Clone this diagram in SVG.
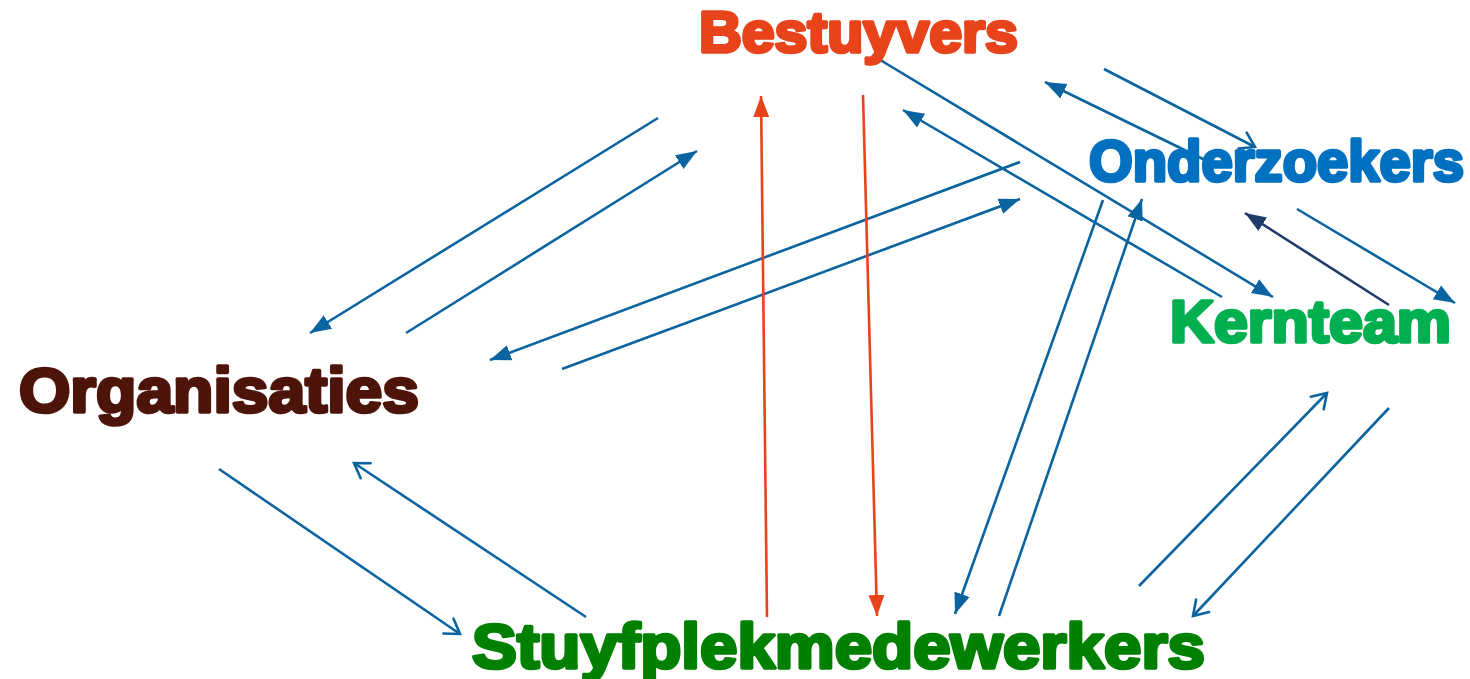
<svg xmlns="http://www.w3.org/2000/svg" width="1470" height="679" viewBox="0 0 1470 679">
<style>
.lbl{font-family:"Liberation Sans",Arial,sans-serif;font-weight:bold;stroke-width:3.6;stroke-linejoin:round}
.c{fill:none;stroke:#0B64A0;stroke-width:2.6}
.r{fill:none;stroke:#E8431A;stroke-width:2.6}
.n{fill:none;stroke:#1F3B68;stroke-width:2.6}
</style>
<defs>
<marker id="fb" markerUnits="userSpaceOnUse" markerWidth="24" markerHeight="24" viewBox="0 0 24 24" refX="21" refY="12" orient="auto"><path d="M0,4 L21,12 L0,20 Z" fill="#0B64A0"/></marker>
<marker id="fr" markerUnits="userSpaceOnUse" markerWidth="24" markerHeight="24" viewBox="0 0 24 24" refX="21" refY="12" orient="auto"><path d="M0,4 L21,12 L0,20 Z" fill="#E8431A"/></marker>
<marker id="fn" markerUnits="userSpaceOnUse" markerWidth="24" markerHeight="24" viewBox="0 0 24 24" refX="21" refY="12" orient="auto"><path d="M0,4 L21,12 L0,20 Z" fill="#1F3B68"/></marker>
<marker id="ob" markerUnits="userSpaceOnUse" markerWidth="24" markerHeight="24" viewBox="0 0 24 24" refX="20" refY="12" orient="auto"><path d="M6,3 L20,12 L6,21" fill="none" stroke="#0B64A0" stroke-width="2.6" stroke-linecap="round"/></marker>
</defs>
<g id="connectors">
<line class="c" x1="658" y1="118" x2="310" y2="333" marker-end="url(#fb)"/>
<line class="c" x1="406" y1="333" x2="697" y2="151" marker-end="url(#fb)"/>
<line class="c" x1="1020" y1="162" x2="490" y2="360" marker-end="url(#fb)"/>
<line class="c" x1="562" y1="369" x2="1020" y2="199" marker-end="url(#fb)"/>
<line class="c" x1="219" y1="469" x2="460" y2="634" marker-end="url(#ob)"/>
<line class="c" x1="586" y1="617" x2="354" y2="463" marker-end="url(#ob)"/>
<line class="r" x1="767" y1="617" x2="761" y2="96" marker-end="url(#fr)"/>
<line class="r" x1="863" y1="95" x2="877" y2="616" marker-end="url(#fr)"/>
<line class="c" x1="1103" y1="200" x2="955" y2="614" marker-end="url(#fb)"/>
<line class="c" x1="999" y1="616" x2="1142" y2="199" marker-end="url(#fb)"/>
<line class="c" x1="1139" y1="586" x2="1327" y2="393" marker-end="url(#ob)"/>
<line class="c" x1="1389" y1="408" x2="1193" y2="616" marker-end="url(#ob)"/>
<line class="n" x1="1389" y1="305" x2="1245" y2="213" marker-end="url(#fn)"/>
<line class="c" x1="1297" y1="209" x2="1455" y2="303" marker-end="url(#fb)"/>
<line class="c" x1="1104" y1="69" x2="1255" y2="147" marker-end="url(#ob)"/>
<line class="c" x1="1205" y1="160" x2="1045" y2="82" marker-end="url(#fb)"/>
<line class="c" x1="872" y1="55" x2="1273" y2="297" marker-end="url(#fb)"/>
<line class="c" x1="1222" y1="297" x2="903" y2="110" marker-end="url(#fb)"/>
</g>
<g id="node-bestuyvers"><text class="lbl" x="699" y="52" font-size="57" textLength="319" lengthAdjust="spacingAndGlyphs" fill="#E8431A" stroke="#E8431A">Bestuyvers</text></g>
<g id="node-onderzoekers"><text class="lbl" x="1089" y="181" font-size="57" textLength="375" lengthAdjust="spacingAndGlyphs" fill="#0070C0" stroke="#0070C0">Onderzoekers</text></g>
<g id="node-kernteam"><text class="lbl" x="1170" y="342" font-size="59" textLength="281" lengthAdjust="spacingAndGlyphs" fill="#00B050" stroke="#00B050">Kernteam</text></g>
<g id="node-organisaties"><text class="lbl" x="19" y="412" font-size="63" textLength="400" lengthAdjust="spacingAndGlyphs" fill="#4D1409" stroke="#4D1409">Organisaties</text></g>
<g id="node-stuyfplekmedewerkers"><text class="lbl" x="472" y="668" font-size="63" textLength="733" lengthAdjust="spacingAndGlyphs" fill="#008000" stroke="#008000">Stuyfplekmedewerkers</text></g>
</svg>
